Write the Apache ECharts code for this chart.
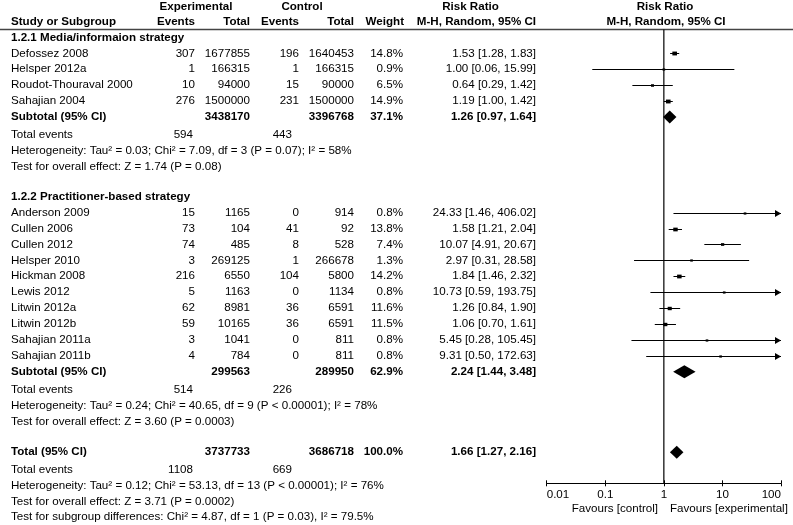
<!DOCTYPE html>
<html><head><meta charset="utf-8">
<script src="https://cdn.jsdelivr.net/npm/echarts@6/dist/echarts.min.js"></script>
<style>html,body{margin:0;padding:0;background:#fff}#c{width:793px;height:525px}</style>
</head><body><div id="c"></div>
<script>
// ---------- DATA ----------
const studies1 = ['Defossez 2008','Helsper 2012a','Roudot-Thouraval 2000','Sahajian 2004'];
const expEvents1 = [307,1,10,276];
const expTotal1 = [1677855,166315,94000,1500000];
const ctrlEvents1 = [196,1,15,231];
const ctrlTotal1 = [1640453,166315,90000,1500000];
const weight1 = [14.8,0.9,6.5,14.9];
const rr1 = [1.53,1.00,0.64,1.19];
const lo1 = [1.28,0.06,0.29,1.00];
const hi1 = [1.83,15.99,1.42,1.42];
const sub1 = [3438170,3396768,37.1,1.26,0.97,1.64];   // expTotal, ctrlTotal, weight, rr, lo, hi
const subEvents1 = [594,443];
const het1 = 'Heterogeneity: Tau² = 0.03; Chi² = 7.09, df = 3 (P = 0.07); I² = 58%';
const eff1 = 'Test for overall effect: Z = 1.74 (P = 0.08)';

const studies2 = ['Anderson 2009','Cullen 2006','Cullen 2012','Helsper 2010','Hickman 2008','Lewis 2012','Litwin 2012a','Litwin 2012b','Sahajian 2011a','Sahajian 2011b'];
const expEvents2 = [15,73,74,3,216,5,62,59,3,4];
const expTotal2 = [1165,104,485,269125,6550,1163,8981,10165,1041,784];
const ctrlEvents2 = [0,41,8,1,104,0,36,36,0,0];
const ctrlTotal2 = [914,92,528,266678,5800,1134,6591,6591,811,811];
const weight2 = [0.8,13.8,7.4,1.3,14.2,0.8,11.6,11.5,0.8,0.8];
const rr2 = [24.33,1.58,10.07,2.97,1.84,10.73,1.26,1.06,5.45,9.31];
const lo2 = [1.46,1.21,4.91,0.31,1.46,0.59,0.84,0.70,0.28,0.50];
const hi2 = [406.02,2.04,20.67,28.58,2.32,193.75,1.90,1.61,105.45,172.63];
const sub2 = [299563,289950,62.9,2.24,1.44,3.48];
const subEvents2 = [514,226];
const het2 = 'Heterogeneity: Tau² = 0.24; Chi² = 40.65, df = 9 (P < 0.00001); I² = 78%';
const eff2 = 'Test for overall effect: Z = 3.60 (P = 0.0003)';

const total = [3737733,3686718,100.0,1.66,1.27,2.16];
const totalEvents = [1108,669];
const hetT = 'Heterogeneity: Tau² = 0.12; Chi² = 53.13, df = 13 (P < 0.00001); I² = 76%';
const effT = 'Test for overall effect: Z = 3.71 (P = 0.0002)';
const subDiff = 'Test for subgroup differences: Chi² = 4.87, df = 1 (P = 0.03), I² = 79.5%';

const axisTicks = [0.01,0.1,1,10,100];
const group1Title = '1.2.1 Media/informaion strategy';
const group2Title = '1.2.2 Practitioner-based strategy';

// ---------- LAYOUT ----------
const XMIN = axisTicks[0], XMAX = axisTicks[axisTicks.length-1];
const FONT = '"Liberation Sans", Arial, sans-serif';
const FS = 11.6;
const R = { h1:0.1, h2:1.05, line:1.5, g1:2, s1:3, sub1:7, ev1:8.1, het1:9.1, eff1:10.1,
  g2:12, s2:13, sub2:23, ev2:24.15, het2:25.15, eff2:26.15,
  tot:28.05, evT:29.15, hetT:30.15, effT:31.15, diff:32.1, axis:30 };
const COL = { name:11, expEv:195, expTot:250, ctlEv:299, ctlTot:354, w:403, rr:536, evE:193, evC:292 };

const ciData = [];
studies1.forEach((s,i)=>ciData.push([lo1[i],hi1[i],rr1[i],R.s1+i,weight1[i]]));
studies2.forEach((s,i)=>ciData.push([lo2[i],hi2[i],rr2[i],R.s2+i,weight2[i]]));
const diamondData = [
  [sub1[4],sub1[5],sub1[3],R.sub1],
  [sub2[4],sub2[5],sub2[3],R.sub2],
  [total[4],total[5],total[3],R.tot]
];

const chart = echarts.init(document.getElementById('c'), null, {renderer:'canvas'});
const labelFmt = v => String(+(+v).toPrecision(2));
const gridBox = {left:546.7, right:12, top:0, bottom:41.7, containLabel:false};
chart.setOption({
  animation:false,
  backgroundColor:'#fff',
  grid:[Object.assign({}, gridBox), Object.assign({}, gridBox)],
  xAxis:[{
    gridIndex:0, type:'log', logBase:10, min:XMIN, max:XMAX, position:'bottom',
    axisLine:{show:true, onZero:false, lineStyle:{color:'#000', width:1}},
    axisTick:{show:true, length:3, lineStyle:{color:'#000'}},
    axisLabel:{show:true, color:'#000', fontFamily:FONT, fontSize:FS, margin:5,
      formatter:labelFmt, alignMinLabel:'left', alignMaxLabel:'right', showMinLabel:true, showMaxLabel:true},
    splitLine:{show:false}, minorTick:{show:false}
  },{
    gridIndex:1, type:'log', logBase:10, min:XMIN, max:XMAX, position:'bottom',
    axisLine:{show:false, onZero:false}, axisTick:{show:true, inside:true, length:3, lineStyle:{color:'#000'}},
    axisLabel:{show:false}, splitLine:{show:false}
  }],
  yAxis:[
    {gridIndex:0, type:'value', inverse:true, min:-0.349, max:R.axis, show:false},
    {gridIndex:1, type:'value', inverse:true, min:-0.349, max:R.axis, show:false}
  ],
  series:[
    { type:'line', xAxisIndex:0, yAxisIndex:0, data:[[1,R.line],[1,R.axis]], symbol:'none',
      lineStyle:{color:'#000', width:1.2}, silent:true },
    { type:'custom', xAxisIndex:0, yAxisIndex:0, clip:false, data:ciData,
      encode:{x:[0,1,2], y:3},
      renderItem(params, api){
        const lo=api.value(0), hi=api.value(1), est=api.value(2), row=api.value(3), w=api.value(4);
        const y = Math.round(api.coord([1,row])[1]) + 0.5;
        const x1 = api.coord([Math.max(lo,XMIN),row])[0];
        const x2 = api.coord([Math.min(hi,XMAX),row])[0];
        const xe = api.coord([est,row])[0];
        const s = Math.max(2.2, 1.0*Math.sqrt(w));
        const ch = [
          {type:'line', shape:{x1:x1,y1:y,x2:x2,y2:y}, style:{stroke:'#000', lineWidth:1}},
          {type:'rect', shape:{x:xe-s*0.6, y:y-s/2, width:s*1.2, height:s}, style:{fill:'#000'}}
        ];
        if (hi > XMAX) ch.push({type:'polygon', shape:{points:[[x2,y],[x2-6,y-3.5],[x2-6,y+3.5]]}, style:{fill:'#000'}});
        return {type:'group', children:ch};
      }
    },
    { type:'custom', xAxisIndex:0, yAxisIndex:0, clip:false, data:diamondData,
      encode:{x:[0,1,2], y:3},
      renderItem(params, api){
        const lo=api.value(0), hi=api.value(1), est=api.value(2), row=api.value(3);
        const y = api.coord([1,row])[1];
        const xl = api.coord([lo,row])[0], xh = api.coord([hi,row])[0], xe = api.coord([est,row])[0];
        return {type:'polygon', shape:{points:[[xl,y],[xe,y-6.5],[xh,y],[xe,y+6.5]]}, style:{fill:'#000'}};
      }
    },
    { type:'line', xAxisIndex:1, yAxisIndex:1, data:[], symbol:'none' }
  ]
});

// ---------- TEXT TABLE ----------
const rowY = r => chart.convertToPixel({yAxisIndex:0}, r);
const g = [];
function T(text, x, row, align, bold){
  g.push({type:'text', x:x, y:rowY(row), silent:true,
    style:{text:String(text), fill:'#000', fontFamily:FONT, fontSize:FS, fontWeight:bold?'bold':'normal',
      align:align||'left', verticalAlign:'middle'}});
}
const rrTxt = (r,l,h) => r.toFixed(2)+' ['+l.toFixed(2)+', '+h.toFixed(2)+']';
// headers
T('Experimental',196,R.h1,'center',true);
T('Control',302,R.h1,'center',true);
T('Risk Ratio',470.5,R.h1,'center',true);
T('Risk Ratio',665,R.h1,'center',true);
T('Study or Subgroup',COL.name,R.h2,'left',true);
T('Events',COL.expEv,R.h2,'right',true);
T('Total',COL.expTot,R.h2,'right',true);
T('Events',COL.ctlEv,R.h2,'right',true);
T('Total',COL.ctlTot,R.h2,'right',true);
T('Weight',COL.w+1,R.h2,'right',true);
T('M-H, Random, 95% CI',COL.rr,R.h2,'right',true);
T('M-H, Random, 95% CI',666,R.h2,'center',true);
g.push({type:'line', silent:true, shape:{x1:0,y1:rowY(R.line),x2:793,y2:rowY(R.line)}, style:{stroke:'#444', lineWidth:1.5}});

function studyRows(names, ee, et, ce, ct, w, rr, lo, hi, start){
  names.forEach((n,i)=>{
    const r = start+i;
    T(n,COL.name,r,'left');
    T(ee[i],COL.expEv,r,'right'); T(et[i],COL.expTot,r,'right');
    T(ce[i],COL.ctlEv,r,'right'); T(ct[i],COL.ctlTot,r,'right');
    T(w[i].toFixed(1)+'%',COL.w,r,'right');
    T(rrTxt(rr[i],lo[i],hi[i]),COL.rr,r,'right');
  });
}
function summaryRow(label, s, row){
  T(label,COL.name,row,'left',true);
  T(s[0],COL.expTot,row,'right',true); T(s[1],COL.ctlTot,row,'right',true);
  T(s[2].toFixed(1)+'%',COL.w,row,'right',true);
  T(rrTxt(s[3],s[4],s[5]),COL.rr,row,'right',true);
}
T(group1Title,COL.name,R.g1,'left',true);
studyRows(studies1,expEvents1,expTotal1,ctrlEvents1,ctrlTotal1,weight1,rr1,lo1,hi1,R.s1);
summaryRow('Subtotal (95% CI)',sub1,R.sub1);
T('Total events',COL.name,R.ev1); T(subEvents1[0],COL.evE,R.ev1,'right'); T(subEvents1[1],COL.evC,R.ev1,'right');
T(het1,COL.name,R.het1); T(eff1,COL.name,R.eff1);

T(group2Title,COL.name,R.g2,'left',true);
studyRows(studies2,expEvents2,expTotal2,ctrlEvents2,ctrlTotal2,weight2,rr2,lo2,hi2,R.s2);
summaryRow('Subtotal (95% CI)',sub2,R.sub2);
T('Total events',COL.name,R.ev2); T(subEvents2[0],COL.evE,R.ev2,'right'); T(subEvents2[1],COL.evC,R.ev2,'right');
T(het2,COL.name,R.het2); T(eff2,COL.name,R.eff2);

summaryRow('Total (95% CI)',total,R.tot);
T('Total events',COL.name,R.evT); T(totalEvents[0],COL.evE,R.evT,'right'); T(totalEvents[1],COL.evC,R.evT,'right');
T(hetT,COL.name,R.hetT); T(effT,COL.name,R.effT); T(subDiff,COL.name,R.diff);

// favours labels
g.push({type:'text', x:658, y:509, silent:true, style:{text:'Favours [control]', fill:'#000', fontFamily:FONT, fontSize:FS, align:'right', verticalAlign:'middle'}});
g.push({type:'text', x:670, y:509, silent:true, style:{text:'Favours [experimental]', fill:'#000', fontFamily:FONT, fontSize:FS, align:'left', verticalAlign:'middle'}});

chart.setOption({graphic:{elements:g}});
</script></body></html>
